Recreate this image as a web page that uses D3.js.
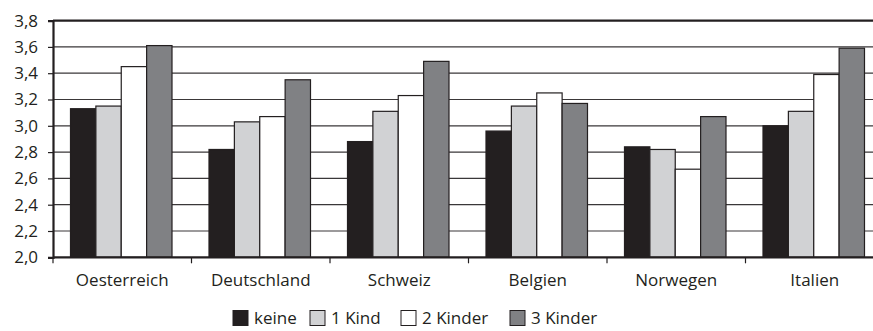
<!DOCTYPE html>
<html>
<head>
<meta charset="utf-8">
<script src="https://cdn.jsdelivr.net/npm/d3@7"></script>
<style>
  html, body { margin: 0; padding: 0; background: #fff; }
  svg { display: block; }
  text { font-family: "Open Sans", Lato, sans-serif; fill: #231f20; }
</style>
</head>
<body>
<svg id="chart" width="873" height="331"></svg>
<script>
// Countries along the x axis
const countries = ["Oesterreich", "Deutschland", "Schweiz", "Belgien", "Norwegen", "Italien"];
// Number of children (series)
const seriesNames = ["keine", "1 Kind", "2 Kinder", "3 Kinder"];
const seriesColors = ["#231f20", "#d1d2d4", "#ffffff", "#808184"];
// Values per series, one entry per country
const keine   = [3.13, 2.82, 2.88, 2.96, 2.84, 3.00];
const einKind = [3.15, 3.03, 3.11, 3.15, 2.82, 3.11];
const zweiKinder = [3.45, 3.07, 3.23, 3.25, 2.67, 3.39];
const dreiKinder = [3.61, 3.35, 3.49, 3.17, 3.07, 3.59];
const seriesValues = [keine, einKind, zweiKinder, dreiKinder];
// Y axis ticks
const yTicks = [2.0, 2.2, 2.4, 2.6, 2.8, 3.0, 3.2, 3.4, 3.6, 3.8];

const FONT = "'Open Sans', Lato, sans-serif";
const svg = d3.select("#chart");
const plot = { left: 53, right: 884, top: 20.6, bottom: 257.3 };

const x = d3.scaleBand().domain(countries).range([plot.left, plot.right]).paddingInner(0).paddingOuter(0);
const x1 = d3.scaleBand().domain(seriesNames).range([17.5, x.bandwidth() - 19.5]).padding(0);
const y = d3.scaleLinear().domain([2.0, 3.8]).range([plot.bottom, plot.top]);

// Horizontal gridlines
svg.append("g")
  .selectAll("line")
  .data(yTicks.slice(1, -1))
  .join("line")
  .attr("x1", plot.left).attr("x2", plot.right)
  .attr("y1", d => y(d)).attr("y2", d => y(d))
  .attr("stroke", "#3a3738").attr("stroke-width", 1.2);

// Bars
const groups = svg.append("g")
  .selectAll("g")
  .data(countries)
  .join("g")
  .attr("transform", d => `translate(${x(d)},0)`);

groups.selectAll("rect")
  .data((c, i) => seriesNames.map((s, k) => ({ s, k, v: seriesValues[k][i] })))
  .join("rect")
  .attr("x", d => x1(d.s))
  .attr("width", x1.bandwidth())
  .attr("y", d => y(d.v))
  .attr("height", d => y(2.0) - y(d.v))
  .attr("fill", d => seriesColors[d.k])
  .attr("stroke", "#231f20")
  .attr("stroke-width", 1.2);

// Top frame line
svg.append("line")
  .attr("x1", plot.left).attr("x2", plot.right)
  .attr("y1", y(3.8)).attr("y2", y(3.8))
  .attr("stroke", "#231f20").attr("stroke-width", 2.2);

// Y axis
const yAxis = svg.append("g")
  .attr("transform", `translate(${plot.left},0)`)
  .call(d3.axisLeft(y).tickValues(yTicks).tickSize(5).tickPadding(10)
    .tickFormat(d => d3.format(".1f")(d).replace(".", ",")));
yAxis.select(".domain").attr("stroke", "#231f20").attr("stroke-width", 2.2);
yAxis.selectAll(".tick line").attr("stroke", "#231f20").attr("stroke-width", 1.2);
yAxis.selectAll(".tick text").attr("font-size", 17).attr("fill", "#231f20")
  .attr("font-family", FONT);

// X axis
const xAxis = svg.append("g")
  .attr("transform", `translate(0,${plot.bottom})`)
  .call(d3.axisBottom(x).tickSize(0).tickPadding(17));
xAxis.select(".domain").remove();
xAxis.append("line")
  .attr("x1", plot.left).attr("x2", plot.right)
  .attr("stroke", "#231f20").attr("stroke-width", 2.2);
xAxis.selectAll(".boundary")
  .data(d3.range(countries.length + 1))
  .join("line")
  .attr("class", "boundary")
  .attr("x1", i => plot.left + i * x.bandwidth())
  .attr("x2", i => plot.left + i * x.bandwidth())
  .attr("y1", 0).attr("y2", 6)
  .attr("stroke", "#231f20").attr("stroke-width", 1.2);
xAxis.selectAll(".tick text").attr("font-size", 17).attr("fill", "#231f20")
  .attr("font-family", FONT);

// Legend
const legendX = [233, 310, 401, 510];
const legend = svg.append("g");
const items = legend.selectAll("g")
  .data(seriesNames)
  .join("g")
  .attr("transform", (d, i) => `translate(${legendX[i]},310.5)`);
items.append("rect")
  .attr("width", 15).attr("height", 15)
  .attr("fill", (d, i) => seriesColors[i])
  .attr("stroke", "#231f20").attr("stroke-width", 1);
items.append("text")
  .attr("x", 21).attr("y", 13.5)
  .attr("font-size", 17)
  .text(d => d);
</script>
</body>
</html>
